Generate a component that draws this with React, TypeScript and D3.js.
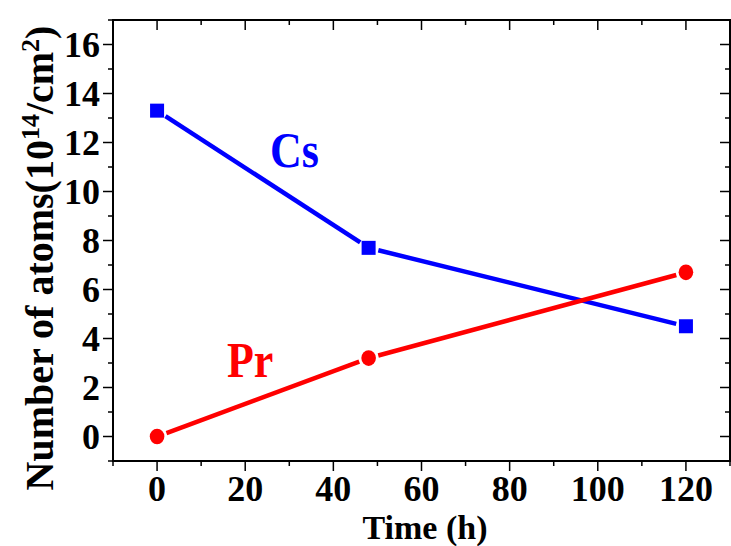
import * as d3 from 'd3'

const times = [0, 48, 120]
const csValues = [13.3, 7.7, 4.5]
const prValues = [0, 3.2, 6.7]
const xTicks = [0, 20, 40, 60, 80, 100, 120]
const yTicks = [0, 2, 4, 6, 8, 10, 12, 14, 16]

const W = 731
const H = 546
const m = { left: 113, right: 1, top: 20, bottom: 85 }
const FONT = "'Liberation Serif', serif"

// shorten a segment so it stops just short of the markers
function gapSegments(pts: [number, number][], gap: number) {
  const segs: [number, number, number, number][] = []
  for (let i = 0; i < pts.length - 1; i++) {
    const [x1, y1] = pts[i]
    const [x2, y2] = pts[i + 1]
    const len = Math.hypot(x2 - x1, y2 - y1)
    const ux = (x2 - x1) / len
    const uy = (y2 - y1) / len
    segs.push([x1 + ux * gap, y1 + uy * gap, x2 - ux * gap, y2 - uy * gap])
  }
  return segs
}

export default function App() {
  const x = d3.scaleLinear().domain([-10, 130]).range([m.left, W - m.right])
  const y = d3.scaleLinear().domain([-1, 17]).range([H - m.bottom, m.top])
  const x0 = m.left
  const x1 = W - m.right
  const y0 = H - m.bottom
  const y1 = m.top

  const xMinor = d3.range(-10, 131, 10)
  const yMinor = d3.range(-1, 17.01, 1)

  const csPts = times.map((t, i) => [x(t), y(csValues[i])] as [number, number])
  const prPts = times.map((t, i) => [x(t), y(prValues[i])] as [number, number])

  return (
    <svg width={W} height={H} style={{ position: 'absolute', left: 0, top: 0, fontFamily: FONT }}>
      {/* frame */}
      <rect x={x0} y={y1} width={x1 - x0} height={y0 - y1} fill="none" stroke="#000" strokeWidth={2} />

      {/* x ticks: bottom outside, top inside */}
      {xMinor.map(v => {
        const major = xTicks.includes(v)
        const len = major ? 10 : 5
        return (
          <g key={'xt' + v} stroke="#000" strokeWidth={1.5}>
            <line x1={x(v)} x2={x(v)} y1={y0} y2={y0 + len} />
            <line x1={x(v)} x2={x(v)} y1={y1} y2={y1 + len} />
          </g>
        )
      })}
      {/* y ticks: left outside, right inside */}
      {yMinor.map(v => {
        const major = yTicks.includes(v)
        const len = major ? 10 : 5
        return (
          <g key={'yt' + v} stroke="#000" strokeWidth={1.5}>
            <line x1={x0} x2={x0 - len} y1={y(v)} y2={y(v)} />
            <line x1={x1} x2={x1 - len} y1={y(v)} y2={y(v)} />
          </g>
        )
      })}

      {xTicks.map(v => (
        <text key={'xl' + v} x={x(v)} y={501} textAnchor="middle" fontSize={36} fontWeight="bold">
          {v}
        </text>
      ))}
      {yTicks.map(v => (
        <text key={'yl' + v} x={100} y={y(v) + 12} textAnchor="end" fontSize={36} fontWeight="bold">
          {v}
        </text>
      ))}

      <text x={425} y={539} textAnchor="middle" fontSize={34} fontWeight="bold">
        Time (h)
      </text>
      <text transform="translate(53,258) rotate(-90)" textAnchor="middle" fontSize={40} fontWeight="bold">
        Number of atoms(10<tspan fontSize={26} dy={-14}>14</tspan>
        <tspan dy={14}>/cm</tspan>
        <tspan fontSize={26} dy={-14}>2</tspan>
        <tspan dy={14}>)</tspan>
      </text>

      {/* Cs series */}
      {gapSegments(csPts, 10).map((s, i) => (
        <line key={'cs' + i} x1={s[0]} y1={s[1]} x2={s[2]} y2={s[3]} stroke="#0000ff" strokeWidth={4.5} />
      ))}
      {csPts.map((p, i) => (
        <rect key={'csm' + i} x={p[0] - 7} y={p[1] - 7} width={14} height={14} fill="#0000ff" />
      ))}

      {/* Pr series */}
      {gapSegments(prPts, 10).map((s, i) => (
        <line key={'pr' + i} x1={s[0]} y1={s[1]} x2={s[2]} y2={s[3]} stroke="#ff0000" strokeWidth={4.5} />
      ))}
      {prPts.map((p, i) => (
        <ellipse key={'prm' + i} cx={p[0]} cy={p[1]} rx={7.3} ry={7.8} fill="#ff0000" />
      ))}

      <text x={270} y={167} fontSize={44} fontWeight="bold" fill="#0000ff" transform="translate(0,167) scale(1,1.15) translate(0,-167)">
        Cs
      </text>
      <text x={227} y={377} fontSize={44} fontWeight="bold" fill="#ff0000" transform="translate(0,377) scale(1,1.15) translate(0,-377)">
        Pr
      </text>
    </svg>
  )
}
